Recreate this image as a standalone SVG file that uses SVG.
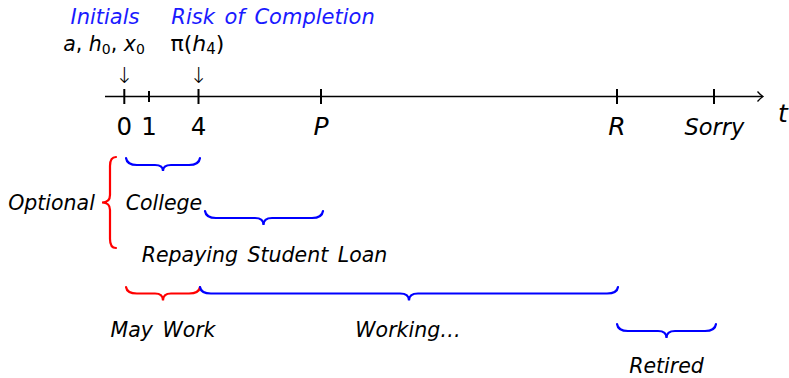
<svg xmlns="http://www.w3.org/2000/svg" width="789" height="378" viewBox="0 0 789 378">
<style>
.t{font-family:"DejaVu Sans","Liberation Sans",sans-serif;font-style:italic;font-size:20.5px;fill:#000;text-anchor:middle}
.n{font-family:"DejaVu Sans","Liberation Sans",sans-serif;font-size:24.5px;fill:#000;text-anchor:middle}
.m{font-family:"DejaVu Sans","Liberation Sans",sans-serif;font-size:20.5px;fill:#000;text-anchor:middle}
.arr{font-family:"DejaVu Sans",sans-serif;font-size:22px;font-weight:300;fill:#000;text-anchor:middle}
.blue{fill:#1a1aff}
.ax{stroke:#000;stroke-width:1.3;fill:none}
.tk{stroke:#000;stroke-width:2;fill:none}
.bb{stroke:#0000ff;stroke-width:2.2;fill:none;stroke-linecap:round}
.rb{stroke:#ff0000;stroke-width:2.2;fill:none;stroke-linecap:round}
</style>
<rect width="789" height="378" fill="#fff"/>
<g id="connectors">
<line class="ax" x1="105" y1="96.5" x2="762" y2="96.5"/>
<path class="ax" d="M757.5 91.5 Q760 94.5 763 96.5 Q760 98.5 757.5 101.5"/>
<line class="tk" x1="124.3" y1="89" x2="124.3" y2="104"/>
<line class="tk" x1="149" y1="91" x2="149" y2="102"/>
<line class="tk" x1="198.5" y1="89" x2="198.5" y2="104"/>
<line class="tk" x1="321" y1="89" x2="321" y2="104"/>
<line class="tk" x1="617" y1="89" x2="617" y2="104"/>
<line class="tk" x1="714" y1="89" x2="714" y2="104"/>
</g>
<g id="initials">
<text class="t blue" x="105" y="24" style="font-size:21px">Initials</text>
<text class="m" x="104" y="51"><tspan font-style="italic">a</tspan>, <tspan font-style="italic">h</tspan><tspan font-size="14" dy="3">0</tspan><tspan dy="-3">, </tspan><tspan font-style="italic">x</tspan><tspan font-size="14" dy="3">0</tspan></text>
<text class="arr" x="124.3" y="83">↓</text>
</g>
<g id="risk">
<text class="t blue" x="273" y="24" style="font-size:21px;word-spacing:3px">Risk of Completion</text>
<text class="m" x="197.5" y="51" style="font-size:22px">π(<tspan font-style="italic">h</tspan><tspan font-size="15" dy="3">4</tspan><tspan dy="-3">)</tspan></text>
<text class="arr" x="198.5" y="83">↓</text>
</g>
<g id="ticklabels">
<text class="n" x="124.3" y="135">0</text>
<text class="n" x="149" y="135">1</text>
<text class="n" x="198.5" y="135">4</text>
<text class="t" x="321" y="135" style="font-size:25px">P</text>
<text class="t" x="617" y="135" style="font-size:25px">R</text>
<text class="t" x="714.5" y="135" style="font-size:22.5px">Sorry</text>
<text class="t" x="783" y="122" style="font-size:25px">t</text>
</g>
<g id="optional">
<path class="rb" d="M116 157 Q110 157 110 166 L110 195 Q110 202.5 102 202.5 Q110 202.5 110 210 L110 239 Q110 248 116 248"/>
<text class="t" x="51.5" y="210">Optional</text>
</g>
<g id="college">
<path class="bb" d="M126 158 Q127 165 137 165 L155 165 Q163 165 163 171 Q163 165 171 165 L189 165 Q199 165 200 158"/>
<text class="t" x="164" y="210">College</text>
</g>
<g id="repaying">
<path class="bb" d="M205 211 Q206 218 216 218 L255 218 Q263.5 218 263.5 225 Q263.5 218 272 218 L312 218 Q322 218 323 211"/>
<text class="t" x="264.5" y="262" style="word-spacing:3px">Repaying Student Loan</text>
</g>
<g id="maywork">
<path class="rb" d="M126 287 Q127 293.5 137 293.5 L155 293.5 Q163 293.5 163 300.5 Q163 293.5 171 293.5 L189 293.5 Q199 293.5 200 287"/>
<text class="t" x="163" y="337" style="word-spacing:3px">May Work</text>
</g>
<g id="working">
<path class="bb" d="M200 287 Q201 293.5 211 293.5 L400 293.5 Q409 293.5 409 300.5 Q409 293.5 418 293.5 L607 293.5 Q617 293.5 618 287"/>
<text class="t" x="408" y="337">Working…</text>
</g>
<g id="retired">
<path class="bb" d="M617 324 Q618 331 628 331 L658 331 Q666.5 331 666.5 338 Q666.5 331 675 331 L705 331 Q715 331 716 324"/>
<text class="t" x="666.5" y="373">Retired</text>
</g>
</svg>
